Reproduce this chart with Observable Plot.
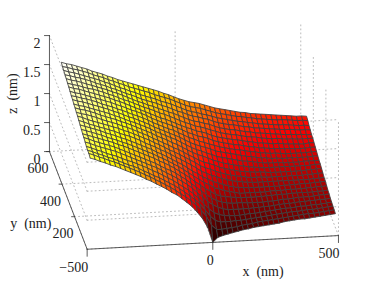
<!DOCTYPE html>
<html>
<head>
<meta charset="utf-8">
<style>html,body{margin:0;padding:0;background:#fff}svg{display:block}</style>
<script src="https://cdn.jsdelivr.net/npm/d3@7"></script>
<script src="https://cdn.jsdelivr.net/npm/@observablehq/plot@0.6"></script>
</head>
<body>
<script>
const xNodes = [-488,-468,-447,-427,-407,-386,-366,-346,-325,-305,-285,-264,-244,-224,-203,-183,-163,-142,-122,-102,-81,-61,-41,-20,0,20,41,61,81,102,122,142,163,183,203,224,244,264,285,305,325,346,366,386,407,427,447,468,488];
const yNodes = [0,20,40,60,80,100,120,140,160,180,200,220,240,260,280,300,320,340,360,380,400,420,440,460];
// surface height in hundredths of a nm, one row per yNodes entry
const zRows = [
[157,154,150,147,143,140,136,132,128,124,120,115,111,106,101,96,90,85,78,71,63,53,42,26,0,8,11,13,15,17,19,20,22,23,24,25,26,27,29,30,31,32,32,33,34,35,36,37,38],
[159,156,152,149,145,142,138,134,130,126,122,117,113,108,103,98,93,87,81,75,68,60,51,39,24,16,16,17,18,19,21,22,23,25,26,27,28,29,30,31,32,33,34,35,35,36,37,38,39],
[159,156,152,149,145,142,138,134,130,127,123,118,114,109,105,100,95,90,84,78,71,64,56,45,34,26,23,23,23,24,24,25,26,27,28,29,30,31,32,33,34,34,35,36,36,37,38,39,40],
[160,157,153,150,146,143,140,136,132,129,125,121,117,112,108,103,98,93,87,81,75,68,60,50,41,34,30,28,27,27,27,28,29,29,30,31,32,33,34,35,35,36,37,37,38,38,39,40,41],
[162,159,155,152,149,146,143,139,135,131,127,123,119,115,111,106,101,96,91,85,79,72,64,56,48,42,37,34,32,32,32,32,32,33,33,34,34,35,36,37,37,38,39,39,40,40,41,41,42],
[164,161,157,154,151,148,145,141,137,133,129,125,121,117,113,108,103,99,94,88,82,75,68,61,54,48,43,40,38,37,37,37,36,36,36,36,37,37,38,39,39,40,41,41,41,42,43,43,44],
[165,162,159,156,153,150,147,143,140,136,132,128,124,120,116,111,107,102,97,91,85,79,72,66,59,54,48,45,43,42,41,40,40,40,40,40,41,41,42,42,42,43,43,43,43,43,44,44,45],
[167,164,161,158,155,151,148,145,141,138,134,130,126,122,118,113,109,104,99,94,88,82,76,70,64,60,54,51,48,46,44,42,42,42,42,42,42,43,43,43,44,44,44,44,45,45,46,46,47],
[169,166,163,160,157,153,150,147,143,140,136,132,128,124,120,115,111,106,101,96,91,85,79,74,68,64,59,56,53,50,48,46,46,45,45,45,45,45,45,45,46,46,46,47,47,47,48,48,49],
[171,168,164,161,158,155,152,149,145,142,139,135,131,126,122,118,113,109,104,99,94,89,84,78,72,68,64,61,58,55,53,51,50,49,48,48,48,48,48,48,48,48,48,48,48,48,49,49,50],
[173,170,166,163,160,157,154,151,148,144,141,137,133,129,125,120,116,111,106,102,97,92,87,82,76,72,69,65,62,59,57,55,54,52,51,51,51,50,50,50,50,50,50,50,50,51,51,52,52],
[174,171,169,166,163,159,156,153,150,146,143,139,135,131,127,122,118,113,109,104,100,95,90,85,80,76,73,70,66,63,61,59,57,56,55,54,54,53,52,52,52,52,52,52,52,53,53,54,54],
[176,173,171,168,165,161,158,155,152,148,145,141,137,133,129,125,120,116,112,107,103,98,93,88,84,81,77,73,70,67,65,63,61,60,58,57,56,55,55,55,55,55,55,55,55,55,55,56,56],
[177,174,172,169,166,163,160,157,153,150,146,142,139,135,131,127,122,118,114,110,106,101,96,91,87,84,80,77,73,71,69,67,65,63,62,61,59,58,57,57,57,56,56,56,56,57,57,57,57],
[179,176,174,171,168,165,162,159,155,152,148,144,141,137,133,129,124,120,116,112,108,104,99,94,90,87,84,81,77,75,73,71,69,67,65,64,62,61,60,59,59,58,58,58,58,58,58,59,59],
[180,178,175,173,170,167,163,160,157,153,150,146,142,139,135,131,126,122,118,114,111,106,102,97,94,90,87,84,81,78,76,74,72,71,69,67,66,64,63,62,62,61,60,60,60,60,60,61,61],
[182,179,177,174,171,168,165,162,159,155,152,148,144,141,137,133,128,124,120,117,113,109,105,100,97,93,91,88,84,81,79,77,75,74,72,70,69,67,66,65,64,64,63,63,62,62,62,63,63],
[184,181,179,176,173,170,167,164,161,157,154,150,146,142,138,134,130,126,122,119,115,111,107,103,100,96,94,91,87,84,82,80,78,77,75,73,72,70,69,68,67,67,66,65,65,64,64,65,65],
[185,182,180,177,174,172,169,166,162,159,155,151,148,144,140,136,133,129,125,122,118,114,110,106,103,99,97,94,91,88,85,83,81,80,78,76,75,74,72,71,70,70,69,68,68,67,67,67,67],
[187,184,182,179,176,173,170,167,164,160,157,153,149,145,141,138,134,131,127,124,120,117,113,109,105,102,100,97,95,91,88,86,84,83,81,79,78,76,75,74,73,72,71,70,70,69,69,68,68],
[188,186,183,181,178,175,171,168,165,161,158,154,150,147,143,139,136,133,130,126,123,119,115,112,108,105,103,100,98,94,91,89,87,86,84,82,81,79,78,77,76,75,74,73,73,72,71,71,70],
[190,187,185,182,179,176,173,170,166,163,159,155,152,148,145,141,138,135,132,128,125,122,118,114,110,107,105,102,100,97,94,92,90,88,86,85,83,82,80,79,78,77,76,76,75,74,73,73,72],
[191,189,186,184,181,178,174,171,168,164,161,157,154,150,147,144,141,138,134,131,128,125,121,117,113,110,108,106,103,100,97,95,93,91,89,88,86,85,83,82,81,80,79,79,78,77,76,76,75],
[193,190,188,185,182,179,175,172,169,165,162,158,155,152,149,146,143,140,137,134,130,127,123,119,116,113,111,109,106,103,100,98,96,94,92,90,89,87,86,85,84,83,82,81,80,79,78,78,77]
];
const xTicks = [-500,0,500];
const yTicks = [200,400,600];
const zTicks = [0,0.5,1,1.5,2];
const hotStops = ["#0a0000","#ff0000","#ffff00","#ffffff"];

// oblique view of the 3-D box
const U = (x,y) => x - 0.25*y;
const V = (x,y,z) => z + 0.000236*x + 0.002807*y;
const P = (x,y,z) => ({u:U(x,y), v:V(x,y,z)});

const cells = [];
for (let j = yNodes.length-2; j >= 0; j--) {
  for (let i = 0; i < xNodes.length-1; i++) {
    const a=zRows[j][i]/100,b=zRows[j][i+1]/100,c=zRows[j+1][i+1]/100,d=zRows[j+1][i]/100;
    const h=(a+b+c+d)/4, id=j*100+i;
    [[i,j,a],[i+1,j,b],[i+1,j+1,c],[i,j+1,d],[i,j,a]].forEach(([ii,jj,z])=>
      cells.push({...P(xNodes[ii],yNodes[jj],z),id,h}));
  }
}
const seg=(list)=>list.flatMap((s,k)=>[{...P(...s[0]),k},{...P(...s[1]),k}]);
const gridSegs = seg([
  ...xTicks.map(x=>[[x,0,0],[x,600,0]]),
  ...[0,...yTicks].map(y=>[[-500,y,0],[500,y,0]]),
  ...zTicks.slice(1).map(z=>[[-500,0,z],[-500,600,z]]),
  ...zTicks.slice(1).map(z=>[[-500,0,z],[500,0,z]]),
  ...[0,...yTicks].map(y=>[[500,y,0],[500,y,2]]),
  [[0,600,0],[0,600,2]]
]);
const axisSegs = seg([[[-500,0,0],[500,0,0]],[[-500,0,0],[-500,600,0]],[[-500,600,0],[-500,600,2]]]);
// tick marks: short lines leaving the axis, in the same u/v units
const tickSegs = [
  ...xTicks.flatMap((x,i)=>{const p=P(x,0,0);return [{...p,k:"x"+i},{u:p.u,v:p.v-7/58,k:"x"+i}];}),
  ...yTicks.flatMap((y,i)=>{const p=P(-500,y,0);return [{...p,k:"y"+i},{u:p.u-3/0.2513,v:p.v,k:"y"+i}];}),
  ...zTicks.flatMap((z,i)=>{const p=P(-500,600,z);return [{...p,k:"z"+i},{u:p.u-5/0.2513,v:p.v,k:"z"+i}];})
];
const F = "Liberation Serif";
const tx = {x:"u",y:"v",fontFamily:F,fontSize:14,fill:"#222"};
const chart = Plot.plot({
  width:374,height:281,margin:0,
  x:{domain:[-844.8,643.4],range:[0,374],axis:null},
  y:{domain:[-0.674,4.171],range:[281,0],axis:null},
  color:{type:"linear",domain:[0,0.72,1.45,1.93],range:hotStops,interpolate:"rgb"},
  marks:[
    Plot.line(gridSegs,{x:"u",y:"v",z:"k",stroke:"#bbb",strokeWidth:1,strokeDasharray:"1,3"}),
    Plot.line(cells,{x:"u",y:"v",z:"id",fill:"h",stroke:"#404040",strokeWidth:0.85}),
    Plot.line(axisSegs,{x:"u",y:"v",z:"k",stroke:"#333",strokeWidth:0.8}),
    Plot.line(tickSegs,{x:"u",y:"v",z:"k",stroke:"#333",strokeWidth:0.8}),
    Plot.text(xTicks.map(x=>({...P(x,0,0),t:String(x).replace("-","\u2212")})),{...tx,text:"t",textAnchor:"end",dy:18,dx:1}),
    Plot.text(yTicks.map(y=>({...P(-500,y,0),t:String(y)})),{...tx,text:"t",dx:-11.5,dy:17}),
    Plot.text(zTicks.map(z=>({...P(-500,600,z),t:String(z)})),{...tx,text:"t",textAnchor:"end",dx:-9,dy:8}),
    Plot.text([P(200,0,0)],{...tx,text:()=>"x\u00a0\u00a0(nm)",dy:32}),
    Plot.text([P(-500,300,0)],{...tx,text:()=>"y\u00a0\u00a0(nm)",dx:-37.5,dy:23}),
    Plot.text([P(-500,600,1)],{...tx,text:()=>"z\u00a0\u00a0(nm)",dx:-37,rotate:-90})
  ]
});
document.body.appendChild(chart);
</script>
</body>
</html>
